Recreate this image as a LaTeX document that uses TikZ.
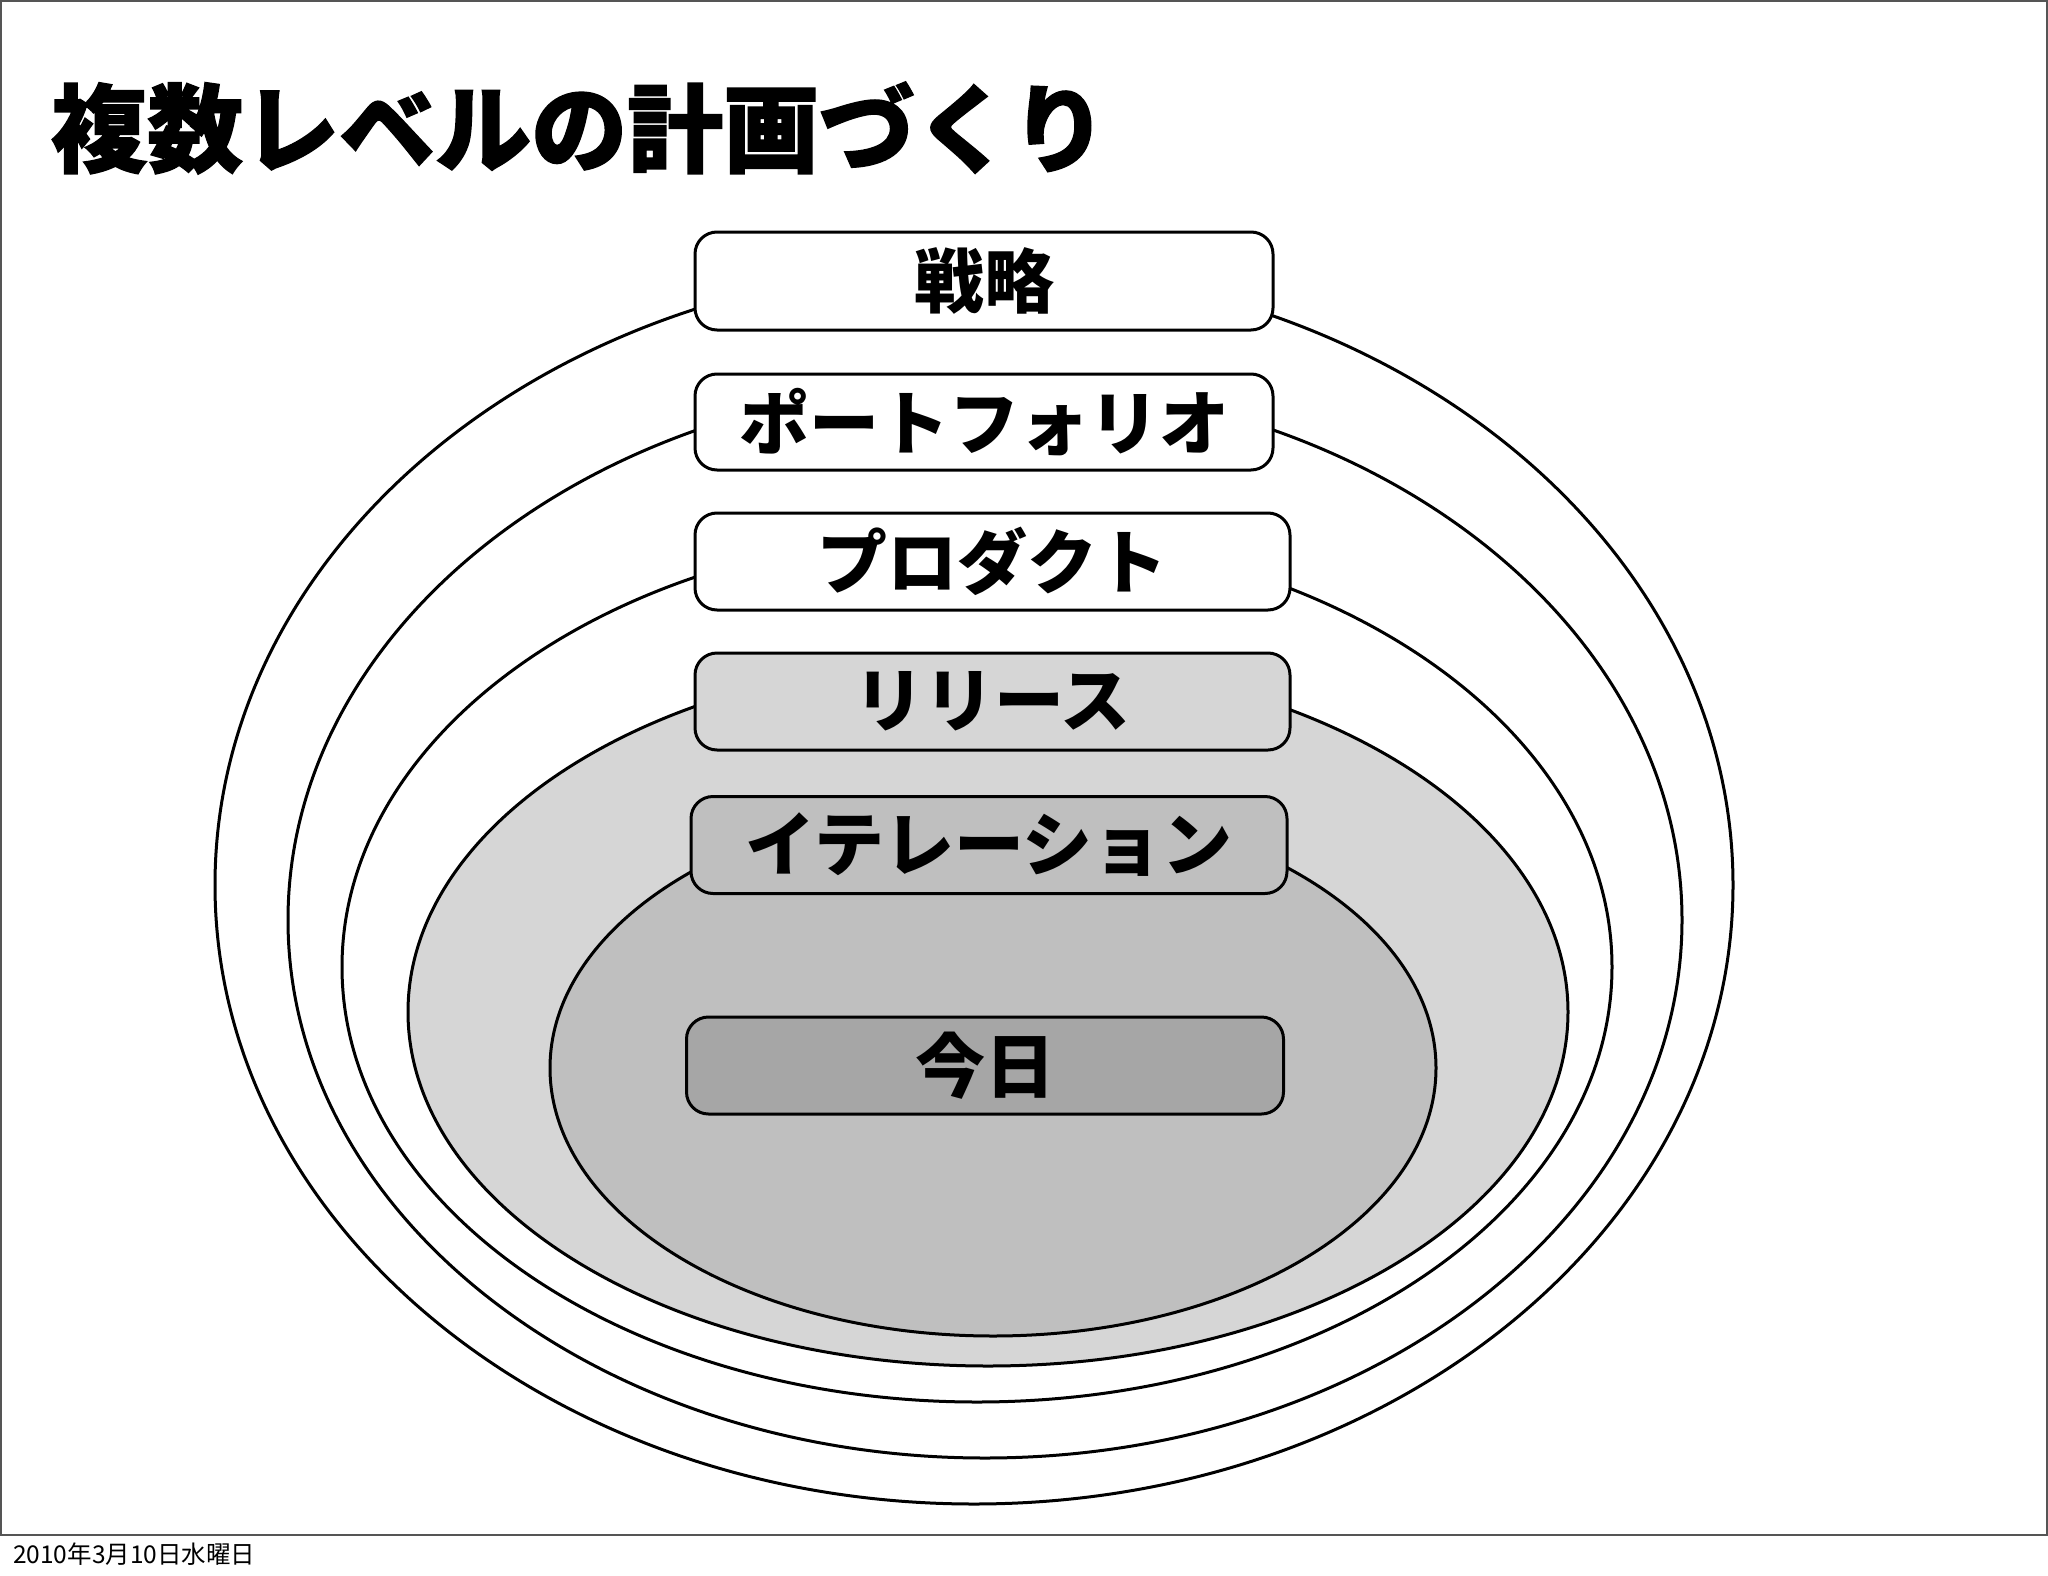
\documentclass[tikz,border=0pt]{standalone}
\usepackage{fontspec}
\newfontfamily\cjk{Noto Sans CJK JP}
\newfontfamily\cjkheavy{Noto Sans CJK JP}[BoldFeatures={FakeBold=1.5}]
\usetikzlibrary{shapes.geometric}
\definecolor{relgray}{HTML}{D6D6D6}
\definecolor{itgray}{HTML}{BFBFBF}
\definecolor{todaygray}{HTML}{A6A6A6}
\definecolor{framegray}{HTML}{555555}
\begin{document}
\begin{tikzpicture}[x=1pt,y=-1pt,
  ell/.style={ellipse, draw=black, line width=3pt, inner sep=0pt},
  lvl/.style={rectangle, rounded corners=22pt, draw=black, line width=3pt, inner sep=0pt,
    font=\cjk\bfseries\fontsize{70}{80}\selectfont},
  frame/.style={draw=framegray, line width=2pt}
]
\useasboundingbox (0,0) rectangle (2048,1576);
\fill[white] (0,0) rectangle (2048,1576);
\draw[frame] (1,1) rectangle (2047,1535);

% title
\node[anchor=west, inner sep=0pt, font=\cjkheavy\bfseries\fontsize{96}{100}\selectfont] (title) at (51,128) {複数レベルの計画づくり};

% nested ellipses
\node[ell, fill=white, minimum width=1518pt, minimum height=1238pt] (eStrat) at (974,885) {};
\node[ell, fill=white, minimum width=1394pt, minimum height=1076pt] (ePort) at (985,920) {};
\node[ell, fill=white, minimum width=1270pt, minimum height=870pt] (eProd) at (977,967) {};
\node[ell, fill=relgray, minimum width=1160pt, minimum height=708pt] (eRel) at (988,1012) {};
\node[ell, fill=itgray, minimum width=886pt, minimum height=536pt] (eIt) at (993,1068) {};

% level boxes
\node[lvl, fill=white, minimum width=578pt, minimum height=98pt] (bStrat) at (984,281) {戦略};
\node[lvl, fill=white, minimum width=578pt, minimum height=96pt] (bPort) at (984,422) {ポートフォリオ};
\node[lvl, fill=white, minimum width=595pt, minimum height=97pt] (bProd) at (992.5,561.5) {プロダクト};
\node[lvl, fill=relgray, minimum width=595pt, minimum height=97pt] (bRel) at (992.5,701.5) {リリース};
\node[lvl, fill=itgray, minimum width=596pt, minimum height=97pt] (bIt) at (989,845) {イテレーション};
\node[lvl, fill=todaygray, minimum width=597pt, minimum height=97pt] (bToday) at (985,1065.5) {今日};

% footer
\node[anchor=west, inner sep=0pt, font=\cjk\fontsize{24.5}{28}\selectfont] (footer) at (13,1554) {2010年3月10日水曜日};
\end{tikzpicture}
\end{document}
